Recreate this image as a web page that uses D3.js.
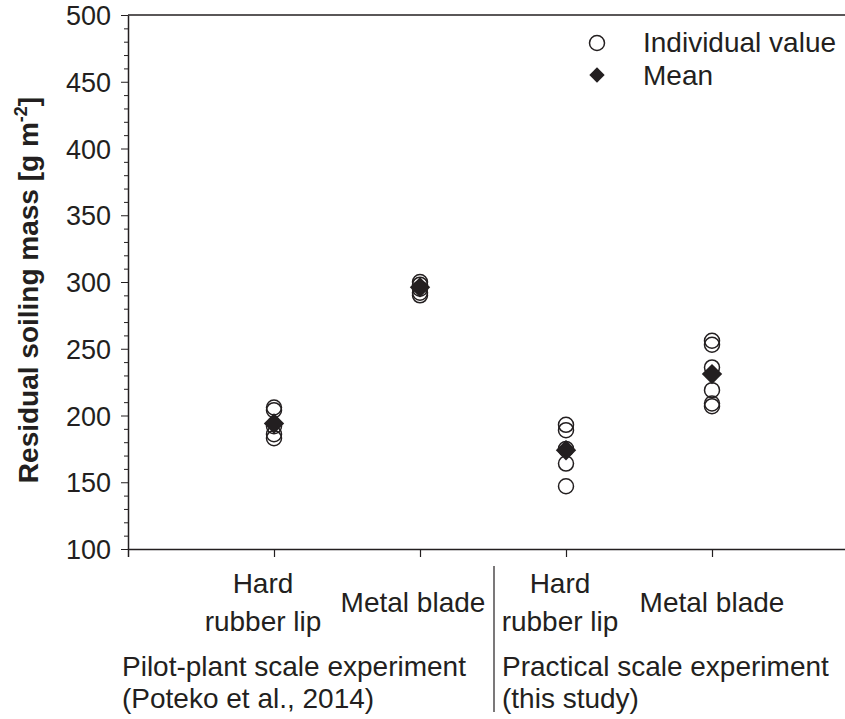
<!DOCTYPE html>
<html><head><meta charset="utf-8">
<script src="https://cdn.jsdelivr.net/npm/d3@7"></script>
<style>body{margin:0;background:#fff;}svg{display:block;}text{font-family:"Liberation Sans",Arial,sans-serif;fill:#231f20;}</style>
</head><body>
<svg id="c" width="845" height="719"></svg>
<script>
const categories = ["Hard rubber lip (pilot)", "Metal blade (pilot)", "Hard rubber lip (practical)", "Metal blade (practical)"];
const categoryLabels = [["Hard","rubber lip"],["Metal blade"],["Hard","rubber lip"],["Metal blade"]];
const individualValues = [
  [206, 204, 192, 186, 183],
  [300, 298, 295, 292, 290],
  [193, 189, 175, 164, 147],
  [256, 253, 236, 219, 209, 207]
];
const meanValues = [194, 296, 174, 231];
const yTicks = [100,150,200,250,300,350,400,450,500];
const groupLabels = [["Pilot-plant scale experiment","(Poteko et al., 2014)"],["Practical scale experiment","(this study)"]];

const svg = d3.select("#c");
const ink = "#231f20";
const FS = "28px";
const x = d3.scaleLinear().domain([0,5]).range([128, 858]);
const y = d3.scaleLinear().domain([100,500]).range([549, 15]);
const labelShift = [-11, -7, -6, 0];

// top frame line
svg.append("line").attr("x1",128).attr("x2",858).attr("y1",y(500)).attr("y2",y(500)).attr("stroke",ink).attr("stroke-width",1.5);

// y axis
const yAxis = d3.axisLeft(y).tickValues(d3.range(100,501,10)).tickSize(0).tickFormat("");
const gy = svg.append("g").attr("transform","translate(128,0)").call(yAxis);
gy.select(".domain").attr("stroke",ink).attr("stroke-width",1.5);
gy.selectAll(".tick line").attr("stroke",ink).attr("stroke-width",1)
  .attr("x2", d => d % 50 === 0 ? -7 : -4);
gy.selectAll(".tick").filter(d => yTicks.includes(d)).append("text")
  .attr("x",-17).attr("dy","0.36em").attr("text-anchor","end")
  .style("font-size","27px").attr("fill",ink).text(d=>d);

// x axis
const xAxis = d3.axisBottom(x).tickValues([1,2,3,4]).tickSize(8).tickFormat("");
const gx = svg.append("g").attr("transform",`translate(0,${y(100)})`).call(xAxis);
gx.select(".domain").attr("stroke",ink).attr("stroke-width",1.5);
gx.selectAll(".tick line").attr("stroke",ink).attr("stroke-width",1.2);

// category labels
categoryLabels.forEach((lines,i)=>{
  const cx = x(i+1) + labelShift[i];
  const t = svg.append("text").attr("text-anchor","middle").style("font-size",FS).attr("fill",ink);
  if(lines.length===2){
    t.append("tspan").attr("x",cx).attr("y",593).text(lines[0]);
    t.append("tspan").attr("x",cx).attr("y",631).text(lines[1]);
  } else {
    t.append("tspan").attr("x",cx).attr("y",612).text(lines[0]);
  }
});
// group labels
const gxPos = [122, 502];
groupLabels.forEach((lines,i)=>{
  lines.forEach((s,j)=>{
    svg.append("text").attr("x",gxPos[i]).attr("y",676+j*32).style("font-size",FS).attr("fill",ink).text(s);
  });
});
// separator
svg.append("line").attr("x1",494).attr("x2",494).attr("y1",566).attr("y2",712).attr("stroke",ink).attr("stroke-width",1.2);

// points
const circleR = 7.5;
individualValues.forEach((vals,i)=>{
  svg.append("g").selectAll("circle").data(vals).join("circle")
    .attr("cx",x(i+1)).attr("cy",d=>y(d)).attr("r",circleR)
    .attr("fill","none").attr("stroke",ink).attr("stroke-width",1.5);
});
const diamond = d3.symbol().type(d3.symbolDiamond2).size(265);
svg.append("g").selectAll("path").data(meanValues).join("path")
  .attr("d",diamond).attr("transform",(d,i)=>`translate(${x(i+1)},${y(d)})`).attr("fill",ink);

// legend
svg.append("circle").attr("cx",597).attr("cy",43).attr("r",circleR).attr("fill","none").attr("stroke",ink).attr("stroke-width",1.5);
svg.append("text").attr("x",643).attr("y",52).style("font-size",FS).attr("fill",ink).text("Individual value");
svg.append("path").attr("d",d3.symbol().type(d3.symbolDiamond2).size(150)).attr("transform","translate(597,75)").attr("fill",ink);
svg.append("text").attr("x",643).attr("y",85).style("font-size",FS).attr("fill",ink).text("Mean");

// y label
const yl = svg.append("text").attr("transform","translate(38,290) rotate(-90)").attr("text-anchor","middle")
  .style("font-size","28px").style("font-weight","bold").attr("fill",ink);
yl.append("tspan").text("Residual soiling mass [g m");
yl.append("tspan").attr("dy",-11).style("font-size","18px").text("-2");
yl.append("tspan").attr("dy",11).text("]");
</script>
</body></html>
